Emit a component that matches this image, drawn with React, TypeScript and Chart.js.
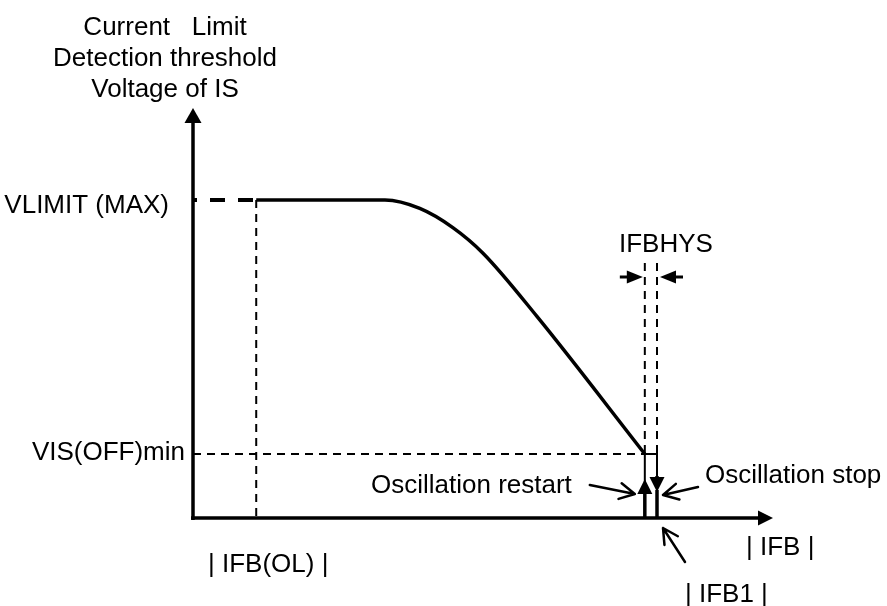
import React, { useEffect, useRef } from "react";
import { Chart, registerables } from "chart.js";

Chart.register(...registerables);

// ---- Data (schematic units: x = |IFB| in % of axis, y = VIS threshold in % of axis) ----
const curveX = [10.9, 33.1, 39.1, 44.8, 50.0, 59.3, 77.9];
const curveY = [79.5, 79.5, 77.4, 72.6, 66.2, 50.4, 16.0];

const IFB_OL = 10.9;
const IFB_RESTART = 77.9;
const IFB1 = 80.0;
const VLIMIT_MAX = 79.5;
const VIS_OFF_MIN = 16.0;
const HYS_TOP = 63.75;
const HYS_ARROW_Y = 60.25;
const X_AXIS_END = 100;
const Y_AXIS_END = 102.5;

const titleLines = ["Current   Limit", "Detection threshold", "Voltage of IS"];
const yTickLabels = ["VLIMIT (MAX)", "VIS(OFF)min"];
const xTickLabels = ["| IFB(OL) |", "| IFB1 |"];
const xAxisLabel = "| IFB |";
const hysLabel = "IFBHYS";
const restartLabel = "Oscillation restart";
const stopLabel = "Oscillation stop";

const FONT = "26px 'Liberation Sans', Arial, sans-serif";

function filledArrow(ctx: CanvasRenderingContext2D, x1: number, y1: number, x2: number, y2: number, len: number, half: number, lw: number) {
  const ang = Math.atan2(y2 - y1, x2 - x1);
  const bx = x2 - Math.cos(ang) * len;
  const by = y2 - Math.sin(ang) * len;
  ctx.save();
  ctx.lineWidth = lw;
  ctx.lineCap = "butt";
  ctx.setLineDash([]);
  ctx.beginPath();
  ctx.moveTo(x1, y1);
  ctx.lineTo(bx + Math.cos(ang) * 1, by + Math.sin(ang) * 1);
  ctx.stroke();
  ctx.beginPath();
  ctx.moveTo(x2, y2);
  ctx.lineTo(bx + Math.sin(ang) * half, by - Math.cos(ang) * half);
  ctx.lineTo(bx - Math.sin(ang) * half, by + Math.cos(ang) * half);
  ctx.closePath();
  ctx.fill();
  ctx.restore();
}

function openArrow(ctx: CanvasRenderingContext2D, x1: number, y1: number, x2: number, y2: number, arm: number, lw: number) {
  const ang = Math.atan2(y2 - y1, x2 - x1);
  const a = (28 * Math.PI) / 180;
  ctx.save();
  ctx.lineWidth = lw;
  ctx.lineCap = "round";
  ctx.lineJoin = "round";
  ctx.setLineDash([]);
  ctx.beginPath();
  ctx.moveTo(x1, y1);
  ctx.lineTo(x2, y2);
  ctx.moveTo(x2 - Math.cos(ang - a) * arm, y2 - Math.sin(ang - a) * arm);
  ctx.lineTo(x2, y2);
  ctx.lineTo(x2 - Math.cos(ang + a) * arm, y2 - Math.sin(ang + a) * arm);
  ctx.stroke();
  ctx.restore();
}

const diagramPlugin = {
  id: "diagram",
  afterDatasetsDraw(chart: any) {
    const ctx: CanvasRenderingContext2D = chart.ctx;
    const xs = chart.scales.x;
    const ys = chart.scales.y;
    const X = (v: number) => xs.getPixelForValue(v);
    const Y = (v: number) => ys.getPixelForValue(v);
    ctx.save();
    ctx.fillStyle = "#000";
    ctx.strokeStyle = "#000";

    const x0 = X(0);
    const y0 = Y(0);
    // axes
    filledArrow(ctx, x0, y0 + 2, x0, Y(Y_AXIS_END), 15, 8.5, 3.5);
    filledArrow(ctx, x0 - 2, y0, X(X_AXIS_END), y0, 15, 7.5, 3.5);

    // hysteresis rectangle and arrows
    const xr = X(IFB_RESTART);
    const x1 = X(IFB1);
    const yv = Y(VIS_OFF_MIN);
    ctx.save();
    ctx.lineWidth = 2;
    ctx.setLineDash([]);
    ctx.beginPath();
    ctx.moveTo(xr, y0 - 36);
    ctx.lineTo(xr, yv);
    ctx.lineTo(x1, yv);
    ctx.lineTo(x1, y0 - 38);
    ctx.stroke();
    ctx.restore();
    filledArrow(ctx, xr, y0, xr, y0 - 39, 15, 7.5, 3.5);
    filledArrow(ctx, x1, y0 - 42, x1, y0 - 26, 15, 7.5, 3.5);
    ctx.save();
    ctx.lineWidth = 3.5;
    ctx.beginPath();
    ctx.moveTo(x1, y0 - 28);
    ctx.lineTo(x1, y0 + 1);
    ctx.stroke();
    ctx.restore();

    // IFBHYS arrows
    const yh = Y(HYS_ARROW_Y);
    filledArrow(ctx, xr - 25, yh, xr - 2, yh, 16, 6.5, 3);
    filledArrow(ctx, x1 + 26, yh, x1 + 3, yh, 16, 6.5, 3);

    // open arrows
    openArrow(ctx, xr - 55, yv + 31, xr - 10, yv + 40, 17, 2.5);
    openArrow(ctx, x1 + 41, yv + 33, x1 + 6, yv + 41, 17, 2.5);
    openArrow(ctx, x1 + 28, y0 + 44, x1 + 6, y0 + 10, 17, 2.5);

    // texts
    ctx.font = FONT;
    ctx.textBaseline = "alphabetic";
    ctx.textAlign = "center";
    const tcx = x0 - 28;
    ctx.fillText(titleLines[0], tcx, 35);
    ctx.fillText(titleLines[1], tcx, 66);
    ctx.fillText(titleLines[2], tcx, 97);

    ctx.textAlign = "right";
    ctx.fillText(yTickLabels[0], x0 - 24, Y(VLIMIT_MAX) + 13);
    ctx.fillText(yTickLabels[1], x0 - 8, yv + 6);

    ctx.textAlign = "center";
    ctx.fillText(xTickLabels[0], X(IFB_OL) + 12, y0 + 54);
    ctx.fillText(hysLabel, (xr + x1) / 2 + 15, Y(HYS_TOP) - 11);

    ctx.textAlign = "left";
    ctx.fillText(xTickLabels[1], x1 + 28, y0 + 84);
    ctx.fillText(xAxisLabel, X(X_AXIS_END) - 27, y0 + 37);
    ctx.fillText(stopLabel, x1 + 48, yv + 29);

    ctx.textAlign = "right";
    ctx.fillText(restartLabel, xr - 73, yv + 39);
    ctx.restore();
  },
};

export default function App() {
  const ref = useRef<HTMLCanvasElement | null>(null);
  useEffect(() => {
    document.body.style.margin = "0";
    const canvas = ref.current;
    if (!canvas) return;
    const thin = { borderColor: "#000", borderWidth: 2, borderDash: [8, 6], pointRadius: 0, clip: false as any, fill: false };
    const chart = new Chart(canvas, {
      type: "line",
      data: {
        datasets: [
          {
            data: curveX.map((x, i) => ({ x, y: curveY[i] })),
            borderColor: "#000",
            borderWidth: 3.5,
            pointRadius: 0,
            cubicInterpolationMode: "monotone",
            clip: false as any,
            fill: false,
          },
          {
            data: [{ x: 0, y: VLIMIT_MAX }, { x: IFB_OL, y: VLIMIT_MAX }],
            borderColor: "#000",
            borderWidth: 4,
            borderDash: [15, 13],
            borderDashOffset: 11,
            pointRadius: 0,
            clip: false as any,
            fill: false,
          },
          { ...thin, data: [{ x: IFB_OL, y: VLIMIT_MAX }, { x: IFB_OL, y: 0 }] },
          { ...thin, data: [{ x: 0, y: VIS_OFF_MIN }, { x: IFB_RESTART, y: VIS_OFF_MIN }] },
          { ...thin, data: [{ x: IFB_RESTART, y: HYS_TOP }, { x: IFB_RESTART, y: VIS_OFF_MIN }] },
          { ...thin, data: [{ x: IFB1, y: HYS_TOP }, { x: IFB1, y: VIS_OFF_MIN }] },
        ],
      },
      options: {
        responsive: false,
        animation: false,
        events: [],
        layout: { padding: { left: 193, right: 114, top: 118, bottom: 88 } },
        plugins: { legend: { display: false }, tooltip: { enabled: false }, title: { display: false } },
        scales: {
          x: { type: "linear", min: 0, max: 100, display: false },
          y: { type: "linear", min: 0, max: 100, display: false },
        },
      },
      plugins: [diagramPlugin],
    });
    return () => chart.destroy();
  }, []);
  return (
    <div style={{ width: 887, height: 606, background: "#fff" }}>
      <canvas ref={ref} width={887} height={606} style={{ display: "block" }} />
    </div>
  );
}
